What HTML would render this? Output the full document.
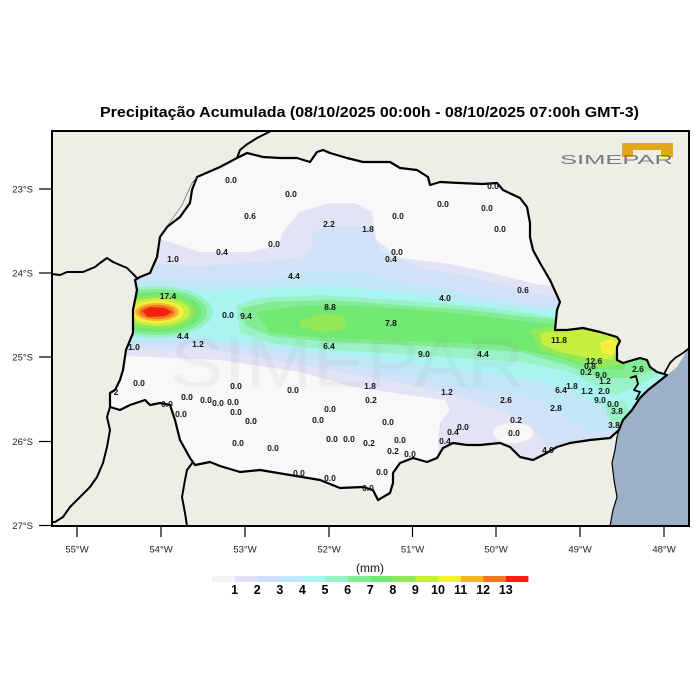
<!DOCTYPE html>
<html><head><meta charset="utf-8"><style>
html,body{margin:0;padding:0;background:#fff;}
svg{display:block;}
text{font-family:"Liberation Sans",sans-serif;}
.v{font-size:8.5px;font-weight:bold;fill:#151515;text-anchor:middle;}
.t{font-size:9.5px;fill:#222;}
</style></head><body>
<svg width="700" height="700" viewBox="0 0 700 700" xmlns="http://www.w3.org/2000/svg">
<defs>
<clipPath id="pr"><polygon points="237,158 247,153 263,157 280,158 297,158 310,162 317,152 323,150 330,153 347,158 363,162 390,162 400,168 417,170 428,177 430,185 440,182 460,183 483,184 497,183 503,190 520,198 527,207 530,223 530,237 533,250 540,263 550,280 560,302 557,310 555,330 567,330 583,328 600,332 617,337 620,341 617,347 617,360 623,363 633,360 640,358 647,360 650,367 657,372 664,374 667,375 657,383 648,390 640,398 632,410 623,420 619,430 610,438 590,440 570,443 557,447 543,455 533,460 520,457 510,447 500,443 480,445 467,445 453,443 443,448 437,458 427,462 413,458 400,463 393,473 393,483 390,493 378,500 373,490 363,487 340,488 320,480 290,475 260,470 240,472 220,466 210,462 195,465 190,458 180,440 175,420 170,405 160,403 150,405 145,400 130,405 120,410 110,407 110,393 115,390 120,380 123,370 126,350 133,333 133,310 137,290 135,280 140,277 150,273 157,257 160,237 167,227 180,217 190,203 192,190 197,177 220,167"/></clipPath>
<clipPath id="fr"><rect x="52" y="131" width="637" height="395"/></clipPath>
</defs>
<rect x="52" y="131" width="637" height="395" fill="#efeee6"/>
<g clip-path="url(#fr)">
<polygon points="690,346 677,367 667,375 657,383 648,390 640,398 632,410 623,420 619,430 617,437 615,450 612,463 614,480 617,497 613,510 610,526 690,526" fill="#9cb1c7"/>
</g>
<g clip-path="url(#pr)">
<rect x="100" y="140" width="600" height="380" fill="#f8f8f8"/>
<polygon fill="#e3e3f6" points="100,238 157,238 200,252 250,252 278,246 283,232 300,212 330,203 355,203 372,212 376,240 400,258 450,264 500,275 540,285 700,288 700,520 440,520 438,440 440,423 450,410 445,400 400,394 350,386 300,372 220,360 100,355"/>
<polygon fill="#d1e1f7" points="100,262 160,264 200,266 260,262 300,258 312,248 313,232 340,225 370,228 380,250 420,268 470,276 520,290 560,298 700,300 700,470 560,470 548,448 530,425 500,410 460,396 400,383 330,370 250,356 200,348 100,350"/>
<polygon fill="#c1e7f6" points="100,276 200,281 260,281 300,273 360,271 420,285 480,295 530,305 700,310 700,440 620,430 590,432 565,418 540,400 500,392 460,386 400,374 330,362 260,350 200,343 100,345"/>
<polygon fill="#a9f4f1" points="100,284 200,290 260,289 320,285 400,292 470,302 540,310 700,316 700,430 625,428 615,420 600,405 575,392 545,382 480,372 400,362 320,352 250,342 200,337 100,338"/>
<polygon fill="#99f2c6" points="236,306 260,298 320,295 400,300 470,306 520,312 560,318 640,320 660,372 640,385 615,395 595,385 570,372 520,362 460,358 400,354 330,350 270,343 240,332"/>
<polygon fill="#99f2c6" points="605,405 625,400 630,415 618,425 608,418"/>
<polygon fill="#81ec91" points="242,308 270,302 330,300 400,305 470,310 520,316 560,320 630,320 652,370 630,378 600,378 570,366 520,352 460,348 400,345 330,342 270,336 245,325"/>
<polygon fill="#70e872" points="256,312 300,306 360,306 420,310 480,316 530,322 560,325 625,325 625,370 590,368 560,358 500,345 440,342 380,340 320,338 270,332"/>
<polygon fill="#93e85a" points="300,320 320,314 345,316 345,330 320,332 300,326"/>
<polygon fill="#93e85a" points="530,330 560,325 620,326 622,365 600,368 570,360 540,350"/>
<polygon fill="#c3f041" points="540,333 570,329 615,330 620,345 612,360 590,358 560,352 542,344"/>
<polygon fill="#f5f03e" points="600,343 612,338 618,345 612,355 602,353"/>
<ellipse cx="157" cy="312" rx="56" ry="26" fill="#99f2c6"/>
<ellipse cx="157" cy="312" rx="50" ry="23" fill="#81ec91"/>
<ellipse cx="157" cy="312" rx="44" ry="20" fill="#70e872"/>
<ellipse cx="157" cy="312" rx="38" ry="17" fill="#93e85a"/>
<ellipse cx="157" cy="312" rx="33" ry="14" fill="#c3f041"/>
<ellipse cx="157" cy="312" rx="27" ry="11.5" fill="#f5f03e"/>
<ellipse cx="157" cy="312" rx="22" ry="9" fill="#f6b331"/>
<ellipse cx="157" cy="312" rx="18" ry="7" fill="#f27621"/>
<polygon fill="#f5200f" points="142,311 150,307 165,308 172,312 165,316 148,317"/>
<ellipse cx="513" cy="433" rx="20" ry="10" fill="#f8f8f8"/>
</g>
<text x="170" y="387" font-size="70" textLength="355" lengthAdjust="spacingAndGlyphs" fill="#8a8a8a" opacity="0.08">SIMEPAR</text>
<g fill="none" stroke="#000" stroke-linejoin="round" clip-path="url(#fr)">
<polygon stroke-width="2.2" points="237,158 247,153 263,157 280,158 297,158 310,162 317,152 323,150 330,153 347,158 363,162 390,162 400,168 417,170 428,177 430,185 440,182 460,183 483,184 497,183 503,190 520,198 527,207 530,223 530,237 533,250 540,263 550,280 560,302 557,310 555,330 567,330 583,328 600,332 617,337 620,341 617,347 617,360 623,363 633,360 640,358 647,360 650,367 657,372 664,374 667,375 657,383 648,390 640,398 632,410 623,420 619,430 610,438 590,440 570,443 557,447 543,455 533,460 520,457 510,447 500,443 480,445 467,445 453,443 443,448 437,458 427,462 413,458 400,463 393,473 393,483 390,493 378,500 373,490 363,487 340,488 320,480 290,475 260,470 240,472 220,466 210,462 195,465 190,458 180,440 175,420 170,405 160,403 150,405 145,400 130,405 120,410 110,407 110,393 115,390 120,380 123,370 126,350 133,333 133,310 137,290 135,280 140,277 150,273 157,257 160,237 167,227 180,217 190,203 192,190 197,177 220,167"/>
<polyline stroke-width="2" points="273,130 257,138 246,145 240,150 237,158"/>
<polyline stroke-width="2" points="52,274 60,275 67,272 83,272 95,267 100,263 107,258 113,262 127,268 137,278"/>
<polyline stroke-width="2" points="110,407 107,417 110,430 107,447 103,463 97,477 90,487 80,497 70,507 63,517 55,522 52,522"/>
<polyline stroke-width="2" points="193,462 187,470 185,480 182,497 185,513 187,526"/>
<polyline stroke-width="1.8" points="664,374 670,363 675,358 683,353 692,346"/>
<polyline stroke-width="1.2" points="619,430 617,437 615,450 612,463 614,480 617,497 613,510 610,526"/>
<polyline stroke-width="1.8" points="630,378 636,376 638,384 634,390 640,392 636,400"/>
<polyline stroke-width="0.6" stroke="#555" points="197,177 192,183 182,205 170,222 160,235"/>
</g>
<g class="v">
<text x="231" y="183">0.0</text><text x="291" y="197">0.0</text><text x="250" y="219">0.6</text>
<text x="329" y="227">2.2</text><text x="368" y="232">1.8</text><text x="398" y="219">0.0</text>
<text x="443" y="207">0.0</text><text x="487" y="211">0.0</text><text x="493" y="189">0.0</text>
<text x="500" y="232">0.0</text><text x="397" y="255">0.0</text><text x="391" y="262">0.4</text>
<text x="222" y="255">0.4</text><text x="274" y="247">0.0</text><text x="173" y="262">1.0</text>
<text x="294" y="279">4.4</text><text x="445" y="301">4.0</text><text x="523" y="293">0.6</text>
<text x="168" y="299">17.4</text><text x="228" y="318">0.0</text><text x="246" y="319">9.4</text>
<text x="330" y="310">8.8</text><text x="391" y="326">7.8</text><text x="559" y="343">11.8</text>
<text x="183" y="339">4.4</text><text x="198" y="347">1.2</text><text x="134" y="350">1.0</text>
<text x="329" y="349">6.4</text><text x="424" y="357">9.0</text><text x="483" y="357">4.4</text>
<text x="594" y="364">12.6</text><text x="590" y="369">0.8</text><text x="586" y="375">0.2</text>
<text x="601" y="378">9.0</text><text x="605" y="384">1.2</text><text x="638" y="372">2.6</text>
<text x="572" y="389">1.8</text><text x="561" y="393">6.4</text><text x="587" y="394">1.2</text>
<text x="604" y="394">2.0</text><text x="600" y="403">9.0</text><text x="613" y="407">0.0</text>
<text x="556" y="411">2.8</text><text x="617" y="414">3.8</text><text x="614" y="428">3.8</text>
<text x="516" y="423">0.2</text><text x="514" y="436">0.0</text><text x="506" y="403">2.6</text>
<text x="447" y="395">1.2</text><text x="370" y="389">1.8</text><text x="371" y="403">0.2</text>
<text x="388" y="425">0.0</text><text x="400" y="443">0.0</text><text x="369" y="446">0.2</text>
<text x="349" y="442">0.0</text><text x="332" y="442">0.0</text><text x="393" y="454">0.2</text>
<text x="410" y="457">0.0</text><text x="382" y="475">0.0</text><text x="368" y="491">0.0</text>
<text x="330" y="481">0.0</text><text x="299" y="476">0.0</text><text x="273" y="451">0.0</text>
<text x="238" y="446">0.0</text><text x="318" y="423">0.0</text><text x="330" y="412">0.0</text>
<text x="251" y="424">0.0</text><text x="236" y="415">0.0</text><text x="236" y="389">0.0</text>
<text x="293" y="393">0.0</text><text x="139" y="386">0.0</text><text x="187" y="400">0.0</text>
<text x="167" y="407">0.0</text><text x="181" y="417">0.0</text><text x="206" y="403">0.0</text>
<text x="218" y="406">0.0</text><text x="233" y="405">0.0</text><text x="453" y="435">0.4</text>
<text x="463" y="430">0.0</text><text x="445" y="444">0.4</text><text x="548" y="453">4.0</text>
<text x="116" y="395">2</text>
</g>
<rect x="622" y="143" width="51" height="7" fill="#e0a81c"/>
<rect x="622" y="149" width="11" height="8" fill="#e0a81c"/>
<rect x="661" y="149" width="12" height="8" fill="#e0a81c"/>
<text x="560" y="164" font-size="13" textLength="113" lengthAdjust="spacingAndGlyphs" fill="#7a7a7a">SIMEPAR</text>
<rect x="52" y="131" width="637" height="395" fill="none" stroke="#000" stroke-width="2"/>
<g stroke="#000" stroke-width="1.2">
<line x1="39" y1="189" x2="52" y2="189"/><line x1="39" y1="273" x2="52" y2="273"/>
<line x1="39" y1="357" x2="52" y2="357"/><line x1="39" y1="441.5" x2="52" y2="441.5"/>
<line x1="39" y1="525.5" x2="52" y2="525.5"/>
<line x1="77" y1="526" x2="77" y2="537"/><line x1="161" y1="526" x2="161" y2="537"/>
<line x1="245" y1="526" x2="245" y2="537"/><line x1="329" y1="526" x2="329" y2="537"/>
<line x1="412.5" y1="526" x2="412.5" y2="537"/><line x1="496" y1="526" x2="496" y2="537"/>
<line x1="580" y1="526" x2="580" y2="537"/><line x1="664" y1="526" x2="664" y2="537"/>
</g>
<g class="t" text-anchor="end">
<text x="33" y="192.5">23°S</text><text x="33" y="276.5">24°S</text><text x="33" y="360.5">25°S</text>
<text x="33" y="445">26°S</text><text x="33" y="529">27°S</text>
</g>
<g class="t" text-anchor="middle">
<text x="77" y="552.5">55°W</text><text x="161" y="552.5">54°W</text><text x="245" y="552.5">53°W</text>
<text x="329" y="552.5">52°W</text><text x="412.5" y="552.5">51°W</text><text x="496" y="552.5">50°W</text>
<text x="580" y="552.5">49°W</text><text x="664" y="552.5">48°W</text>
</g>
<text x="369.5" y="117" font-size="14.3" font-weight="bold" text-anchor="middle" textLength="539" lengthAdjust="spacingAndGlyphs" fill="#000">Precipitação Acumulada (08/10/2025 00:00h - 08/10/2025 07:00h GMT-3)</text>
<text x="370" y="572" font-size="12" text-anchor="middle" fill="#111">(mm)</text>
<g>
<rect x="212" y="576" width="22.7" height="6" fill="#f5f5f5"/>
<rect x="234.6" y="576" width="22.7" height="6" fill="#e2e2f5"/>
<rect x="257.2" y="576" width="22.7" height="6" fill="#d0e0f7"/>
<rect x="279.8" y="576" width="22.7" height="6" fill="#c1e6f7"/>
<rect x="302.4" y="576" width="22.7" height="6" fill="#a8f4f1"/>
<rect x="325" y="576" width="22.7" height="6" fill="#99f2c6"/>
<rect x="347.6" y="576" width="22.7" height="6" fill="#81ec91"/>
<rect x="370.2" y="576" width="22.7" height="6" fill="#70e872"/>
<rect x="392.8" y="576" width="22.7" height="6" fill="#93e85a"/>
<rect x="415.4" y="576" width="22.7" height="6" fill="#c3f041"/>
<rect x="438" y="576" width="22.7" height="6" fill="#f5f03e"/>
<rect x="460.6" y="576" width="22.7" height="6" fill="#f6b331"/>
<rect x="483.2" y="576" width="22.7" height="6" fill="#f27621"/>
<rect x="505.8" y="576" width="22.6" height="6" fill="#f5200f"/>
</g>
<g font-size="12.5" font-weight="bold" text-anchor="middle" fill="#000">
<text x="234.6" y="594">1</text><text x="257.2" y="594">2</text><text x="279.8" y="594">3</text>
<text x="302.4" y="594">4</text><text x="325" y="594">5</text><text x="347.6" y="594">6</text>
<text x="370.2" y="594">7</text><text x="392.8" y="594">8</text><text x="415.4" y="594">9</text>
<text x="438" y="594">10</text><text x="460.6" y="594">11</text><text x="483.2" y="594">12</text>
<text x="505.8" y="594">13</text>
</g>
</svg>
</body></html>
